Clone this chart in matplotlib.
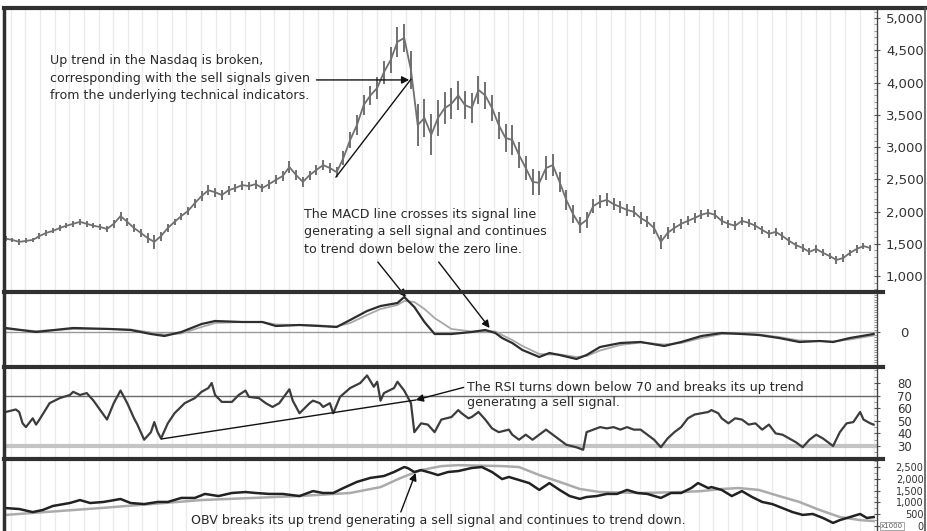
import matplotlib.pyplot as plt
import numpy as np
from matplotlib.lines import Line2D
from matplotlib.ticker import FixedLocator, MultipleLocator

# weekly Nasdaq bars, one every two weeks (Dec 1997 - Dec 2002)
weeks = np.arange(0, 258, 2)
close = [1580, 1560, 1530, 1545, 1560, 1620, 1670, 1700, 1745, 1780,
         1810, 1840, 1810, 1780, 1760, 1730, 1810, 1930, 1840, 1745,
         1670, 1590, 1530, 1620, 1745, 1840, 1930, 2010, 2130, 2240,
         2330, 2300, 2255, 2330, 2365, 2410, 2395, 2425, 2365, 2425,
         2490, 2550, 2690, 2565, 2460, 2565, 2645, 2720, 2675, 2610,
         2830, 3110, 3340, 3650, 3800, 3915, 4160, 4350, 4630, 4690,
         4195, 3340, 3450, 3190, 3450, 3605, 3670, 3800, 3650, 3605,
         3885, 3800, 3605, 3340, 3140, 3110, 2875, 2675, 2460, 2445,
         2675, 2720, 2460, 2180, 1960, 1790, 1870, 2085, 2150, 2180,
         2115, 2070, 2025, 1995, 1900, 1840, 1745, 1530, 1670, 1745,
         1810, 1855, 1900, 1950, 1980, 1950, 1855, 1810, 1780, 1855,
         1825, 1780, 1715, 1655, 1685, 1620, 1545, 1480, 1435, 1375,
         1420, 1360, 1310, 1250, 1280, 1360, 1420, 1465, 1435]
half_range = [40, 35, 45, 40, 35, 40, 45, 40, 45, 40,
              45, 50, 45, 40, 45, 50, 60, 70, 60, 55,
              60, 70, 110, 70, 55, 50, 55, 60, 70, 75,
              80, 70, 75, 70, 65, 70, 60, 70, 65, 70,
              70, 75, 90, 80, 75, 70, 75, 80, 70, 75,
              110, 130, 150, 160, 150, 170, 180, 200, 230, 220,
              300, 330, 300, 320, 280, 250, 240, 230, 220, 230,
              220, 210, 200, 210, 220, 230, 200, 190, 200, 190,
              180, 170, 160, 150, 140, 130, 120, 110, 100, 100,
              95, 90, 90, 85, 90, 85, 90, 110, 90, 80,
              75, 70, 70, 70, 65, 70, 70, 65, 70, 65,
              60, 60, 60, 65, 60, 60, 60, 55, 60, 55,
              55, 55, 50, 60, 55, 50, 55, 50, 45]

macd_weeks = [0, 9, 20, 31, 37, 43, 47, 52, 58, 62, 70, 76, 80, 87, 93, 98,
              102, 107, 111, 116, 118, 121, 124, 127, 132, 138, 142, 145, 147,
              150, 153, 158, 161, 164, 169, 172, 176, 182, 188, 195, 200, 206,
              212, 218, 223, 229, 235, 241, 245, 250, 257]
macd = [40, 0, 40, 30, 20, -20, -40, 0, 80, 110, 100, 100, 60, 70, 60, 50,
        120, 210, 260, 290, 350, 250, 100, -20, -20, 0, 20, -10, -60,
        -110, -180, -250, -210, -230, -270, -230, -150, -110, -100, -140, -100, -40,
        -10, -20, -30, -60, -100, -90, -100, -60, -20]
signal = [30, 10, 30, 30, 25, -5, -25, -15, 50, 90, 100, 100, 75, 70, 65, 55,
          90, 170, 230, 270, 310, 300, 230, 140, 30, 5, 10, 5, -30,
          -80, -140, -220, -225, -225, -250, -240, -185, -130, -105, -125, -110, -60,
          -20, -15, -25, -50, -85, -90, -95, -75, -35]

rsi_weeks = [0, 3, 4, 5, 6, 8, 9, 10, 13, 16, 19, 20, 22, 24, 26, 28, 30, 32,
             34, 36, 38, 39, 41, 43, 44, 45, 46, 48, 50, 53, 56, 58, 60, 61,
             62, 64, 67, 69, 71, 72, 75, 77, 79, 81, 84, 85, 86, 87, 90, 91,
             93, 94, 96, 97, 99, 102, 105, 107, 109, 110, 111, 112, 115, 116,
             118, 120, 121, 123, 125, 127, 129, 132, 134, 135, 137, 138, 140,
             142, 144, 146, 149, 150, 152, 154, 156, 160, 163, 166, 169, 171,
             172, 174, 176, 178, 180, 182, 184, 186, 188, 190, 192, 194, 196,
             198, 200, 202, 204, 206, 208, 209, 211, 212, 214, 216, 218, 220,
             222, 224, 226, 228, 230, 232, 234, 236, 238, 240, 242, 244, 245,
             247, 249, 251, 253, 254, 256, 257]
rsi = [57, 59, 57, 48, 45, 52, 47, 51, 64, 68, 70.5, 73, 70.5, 72, 66, 58.5, 51, 64,
       74, 64, 52, 47, 35, 41, 49, 41, 36, 48, 56, 64, 68, 73, 76, 80,
       70.5, 65, 65, 70.5, 74, 69, 68, 64, 61, 64, 75, 66, 61, 56, 64, 66,
       64, 61, 64, 56, 69, 76, 80, 86, 77, 81, 66, 72, 76, 81,
       74, 64, 41, 48, 47, 41, 51, 53, 58.5, 56, 52, 53, 57,
       51, 44, 41, 43, 39, 35, 39, 35, 43, 37, 31, 29, 27,
       41, 43, 45, 44, 45, 43, 45, 43, 43, 39, 35, 29, 36,
       41, 45, 52, 55, 56, 57, 58.5, 56, 52, 48, 52, 51, 47,
       48, 43, 47, 40, 39, 36, 33, 29, 35, 39, 36, 32, 30,
       41, 48, 49, 57, 51, 48, 47]

obv_weeks = [0, 4, 8, 11, 14, 19, 22, 25, 29, 34, 37, 41, 45, 48, 52, 56, 59,
             63, 67, 71, 74, 78, 82, 87, 91, 94, 97, 100, 104, 108, 112, 115,
             118, 119, 121, 123, 126, 128, 131, 134, 138, 141, 144, 147, 149,
             152, 155, 158, 161, 164, 167, 170, 172, 175, 178, 181, 184, 187,
             190, 194, 197, 200, 203, 205, 208, 209, 212, 215, 218, 221, 224,
             227, 230, 233, 236, 239, 242, 245, 247, 250, 253, 255, 257]
obv = [760, 720, 590, 680, 850, 975, 1100, 975, 1020, 1145, 975, 930, 1020, 1020,
       1190, 1190, 1360, 1270, 1400, 1440, 1400, 1360, 1360, 1270, 1480, 1400,
       1400, 1610, 1870, 2040, 2120, 2290, 2500, 2460, 2290, 2370, 2250, 2160,
       2290, 2330, 2460, 2500, 2290, 1990, 2080, 1950, 1820, 1530, 1820, 1530,
       1270, 1150, 1230, 1270, 1360, 1360, 1530, 1400, 1360, 1190, 1400, 1400,
       1610, 1820, 1610, 1650, 1530, 1270, 1480, 1230, 1020, 930, 760, 590,
       470, 510, 340, 130, 250, 380, 510, 340, 380]
obv_ma_weeks = [0, 28, 58, 87, 102, 111, 117, 123, 129, 134, 147, 152, 158,
                164, 170, 176, 188, 200, 206, 212, 217, 223, 229, 235, 241,
                247, 253, 257]
obv_ma = [470, 760, 1100, 1270, 1400, 1650, 2040, 2370, 2540, 2580, 2540,
          2500, 2160, 1870, 1570, 1440, 1400, 1440, 1480, 1570, 1610, 1530,
          1270, 1020, 680, 380, 250, 210]

price_ticks = [1000, 1500, 2000, 2500, 3000, 3500, 4000, 4500, 5000]
rsi_ticks = [30, 40, 50, 60, 70, 80]
obv_ticks = [0, 500, 1000, 1500, 2000, 2500]

W, H = 927, 531
fig = plt.figure(figsize=(W / 100, H / 100), dpi=100)
plt.rcParams['font.family'] = 'DejaVu Sans'

left = 4 / W
width = 873 / W


def panel(top, bottom):
    return fig.add_axes([left, 1 - bottom / H, width, (bottom - top) / H])


ax_p = panel(8, 292)
ax_m = panel(292, 367)
ax_r = panel(367, 459)
ax_o = panel(459, 531)

month_lines = np.arange(1.5, 258, 52 / 12)
for ax in (ax_p, ax_m, ax_r, ax_o):
    ax.set_xlim(-0.5, 258)
    ax.set_xticks([])
    for x in month_lines:
        ax.axvline(x, color='#ebebeb', lw=1, zorder=0)
    for s in ('top', 'bottom', 'left'):
        ax.spines[s].set_visible(False)
    ax.spines['right'].set_color('#444444')
    ax.spines['right'].set_linewidth(1)
    ax.yaxis.tick_right()
    ax.tick_params(axis='y', which='major', direction='inout', length=5,
                   color='#555555', labelcolor='#333333', pad=4)
    ax.tick_params(axis='y', which='minor', direction='in', length=2,
                   color='#888888')

# price bars
low = np.array(close) - np.array(half_range)
high = np.array(close) + np.array(half_range)
ax_p.vlines(weeks, low, high, color='#707070', lw=1.4)
ax_p.plot(weeks, close, color='#707070', lw=1.3)
ax_p.set_ylim(753, 5155)
ax_p.yaxis.set_major_locator(FixedLocator(price_ticks))
ax_p.yaxis.set_minor_locator(MultipleLocator(100))
ax_p.set_yticklabels([f'{t:,}' for t in price_ticks], fontsize=9.5)

# MACD
ax_m.axhline(0, color='#9a9a9a', lw=1)
ax_m.plot(macd_weeks, signal, color='#a8a8a8', lw=1.3)
ax_m.plot(macd_weeks, macd, color='#2e2e2e', lw=1.6)
ax_m.set_ylim(-350, 400)
ax_m.yaxis.set_major_locator(FixedLocator([0]))
ax_m.yaxis.set_minor_locator(MultipleLocator(25))
ax_m.set_yticklabels(['0'], fontsize=9.5)
ax_m.tick_params(axis='y', pad=14)

# RSI
ax_r.axhline(70, color='#6a6a6a', lw=1)
ax_r.axhline(30, color='#c4c4c4', lw=3)
ax_r.plot(rsi_weeks, rsi, color='#3c3c3c', lw=1.6)
ax_r.set_ylim(19.7, 92.7)
ax_r.yaxis.set_major_locator(FixedLocator(rsi_ticks))
ax_r.yaxis.set_minor_locator(MultipleLocator(5))
ax_r.set_yticklabels([str(t) for t in rsi_ticks], fontsize=8.5)
ax_r.tick_params(axis='y', pad=12)

# OBV
ax_o.plot(obv_ma_weeks, obv_ma, color='#ababab', lw=1.8)
ax_o.plot(obv_weeks, obv, color='#222222', lw=1.8)
ax_o.set_ylim(-212, 2841)
ax_o.yaxis.set_major_locator(FixedLocator(obv_ticks))
ax_o.yaxis.set_minor_locator(MultipleLocator(250))
ax_o.set_yticklabels([f'{t:,}' for t in obv_ticks], fontsize=7, ha='right')
ax_o.tick_params(axis='y', pad=31)
ax_o.text(1.0175, 0.07, 'x1000', transform=ax_o.transAxes, fontsize=5,
          color='#555555', ha='center', va='center',
          bbox=dict(facecolor='white', edgecolor='#999999', lw=0.6, pad=0.6))

# frame and panel separators
sep = dict(color='#303030', lw=3, transform=fig.transFigure)
for y in (292, 367, 459):
    fig.add_artist(Line2D([left, 883 / W], [1 - y / H] * 2, **sep))
fig.add_artist(Line2D([left, 1], [1 - 8 / H] * 2, **sep))
fig.add_artist(Line2D([left, left], [0, 1 - 8 / H], color='#303030', lw=2.5,
                      transform=fig.transFigure))
fig.add_artist(Line2D([925 / W, 925 / W], [0, 1 - 8 / H], color='#555555',
                      lw=1.2, transform=fig.transFigure))

txt = dict(fontsize=9.1, color='#2a2a2a', linespacing=1.45)
arrow = dict(arrowstyle='-|>', color='#111111', lw=1, mutation_scale=11,
             shrinkA=0, shrinkB=0)

ax_p.text(13, 4440, 'Up trend in the Nasdaq is broken,\n'
          'corresponding with the sell signals given\n'
          'from the underlying technical indicators.', va='top', **txt)
ax_p.annotate('', xy=(119.5, 4040), xytext=(92, 4040), arrowprops=arrow)
ax_p.plot([97.8, 120], [2535, 4050], color='#111111', lw=1)

ax_p.text(88.3, 2060, 'The MACD line crosses its signal line\n'
          'generating a sell signal and continues\n'
          'to trend down below the zero line.', va='top', **txt)
ax_m.annotate('', xy=(118.5, 350), xytext=(110.2, 1218),
              textcoords=ax_p.transData, arrowprops=arrow, annotation_clip=False)
ax_m.annotate('', xy=(143.3, 40), xytext=(128.2, 1218),
              textcoords=ax_p.transData, arrowprops=arrow, annotation_clip=False)

ax_r.text(136.5, 81.5, 'The RSI turns down below 70 and breaks its up trend\n'
          'generating a sell signal.', va='top', ha='left',
          fontsize=9.1, color='#2a2a2a', linespacing=1.2)
ax_r.plot([46.1, 121.4], [35.6, 66.5], color='#111111', lw=1)
ax_r.annotate('', xy=(121.4, 66.5), xytext=(135.6, 76.5), arrowprops=arrow)

ax_o.text(55, 254, 'OBV breaks its up trend generating a sell signal and '
          'continues to trend down.', va='center', **txt)
ax_o.annotate('', xy=(121.4, 2247), xytext=(117, 594), arrowprops=arrow)

fig.savefig('out.png', dpi=100)
